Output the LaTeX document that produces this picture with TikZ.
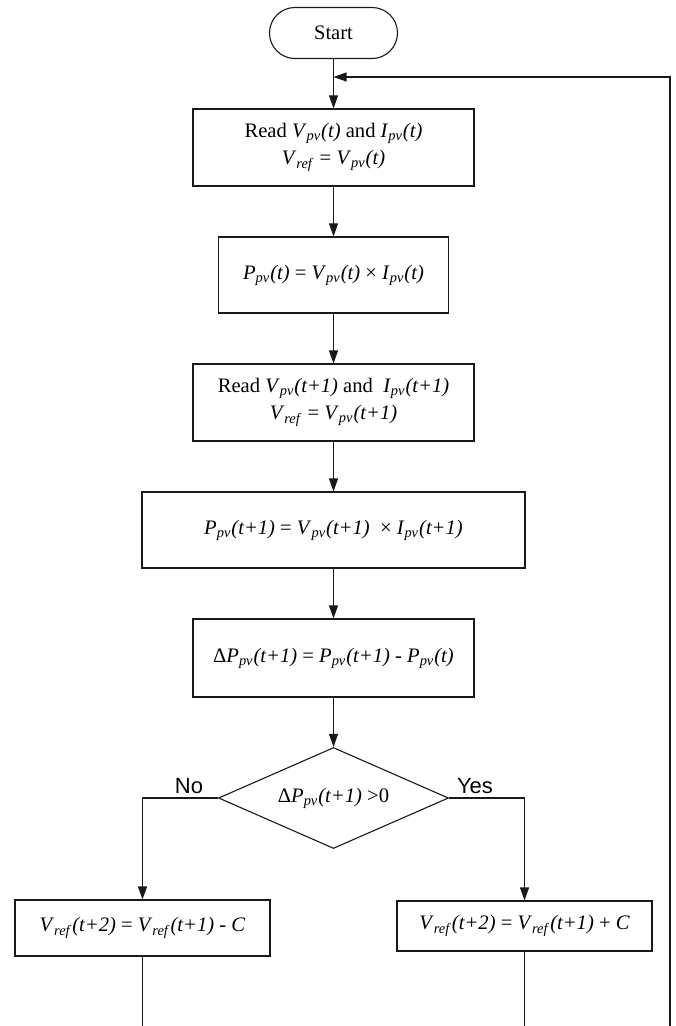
\documentclass[tikz,border=0pt]{standalone}
\usepackage{fontspec}
\setmainfont{Liberation Serif}
\newfontfamily\labelfont{Liberation Sans}
\usetikzlibrary{shapes.geometric,arrows.meta}

% italic quantity with italic subscript
\newcommand\sv[2]{\textit{#1}\textsubscript{\textit{#2}}}

\begin{document}
\begin{tikzpicture}[x=0.5pt,y=-0.5pt,
  every node/.style={font=\fontsize{10.3}{13.5}\selectfont},
  flow/.style={draw=black!90, line width=0.55pt, inner sep=0pt, align=center},
  proc/.style={flow, rectangle},
  term/.style={flow, rectangle, rounded corners=12.7pt},
  cond/.style={flow, diamond, aspect=2.28},
  conn/.style={draw=black!90, line width=0.55pt, -{Triangle[length=6.5pt,width=4.5pt]}},
  wire/.style={draw=black!90, line width=0.55pt},
  yn/.style={font=\labelfont\fontsize{11}{13}\selectfont, anchor=base, inner sep=0pt}]

\useasboundingbox (0,0) rectangle (675,1026);

% main column
\node[term, minimum width=64pt, minimum height=25.5pt] (start) at (333.5,33) {Start};
\node[proc, minimum width=140.5pt, minimum height=38.5pt] (read1) at (333.5,147.5)
  {Read \sv{V}{pv}\textit{(t)} and \sv{I}{pv}\textit{(t)}\\ \sv{V}{ref} = \sv{V}{pv}\textit{(t)}};
\node[proc, minimum width=115pt, minimum height=38pt] (pow1) at (333.5,275)
  {\sv{P}{pv}\textit{(t)} = \sv{V}{pv}\textit{(t)} × \sv{I}{pv}\textit{(t)}};
\node[proc, minimum width=140.5pt, minimum height=38.5pt] (read2) at (333.5,402.5)
  {Read \sv{V}{pv}\textit{(t+1)} and \ \sv{I}{pv}\textit{(t+1)}\\ \sv{V}{ref} = \sv{V}{pv}\textit{(t+1)}};
\node[proc, minimum width=191.5pt, minimum height=38pt] (pow2) at (333.5,530)
  {\sv{P}{pv}\textit{(t+1)} = \sv{V}{pv}\textit{(t+1)} \ × \sv{I}{pv}\textit{(t+1)}};
\node[proc, minimum width=140.5pt, minimum height=39pt] (dpow) at (333.5,658)
  {Δ\sv{P}{pv}\textit{(t+1)} = \sv{P}{pv}\textit{(t+1)} - \sv{P}{pv}\textit{(t)}};
\node[cond, minimum width=115pt, minimum height=50.5pt] (test) at (333.5,798)
  {Δ\sv{P}{pv}\textit{(t+1)} >0};

% branch boxes
\node[proc, minimum width=127.5pt, minimum height=28pt] (dec) at (142.5,928)
  {\sv{V}{ref}\textit{(t+2)} = \sv{V}{ref}\textit{(t+1)} - \textit{C}};
\node[proc, minimum width=127.5pt, minimum height=25pt] (inc) at (524.5,926)
  {\sv{V}{ref}\textit{(t+2)} = \sv{V}{ref}\textit{(t+1)} + \textit{C}};

% branch labels
\node[yn] (nolab) at (189,793) {No};
\node[yn] (yeslab) at (475,793) {Yes};

% loop and free ends
\coordinate (decEnd) at (142.5,1026);
\coordinate (incEnd) at (524.5,1026);
\coordinate (loopB) at (670,1026);
\coordinate (loopT) at (670,77);

% connectors
\draw[conn] (start) -- (read1);
\draw[conn] (read1) -- (pow1);
\draw[conn] (pow1) -- (read2);
\draw[conn] (read2) -- (pow2);
\draw[conn] (pow2) -- (dpow);
\draw[conn] (dpow) -- (test);
\draw[conn] (test.west) -| (dec.north);
\draw[conn] (test.east) -| (inc.north);
\draw[wire] (dec.south) -- (decEnd);
\draw[wire] (inc.south) -- (incEnd);
\draw[conn] (loopB) -- (loopT) -- (start.south |- loopT);
\end{tikzpicture}
\end{document}
